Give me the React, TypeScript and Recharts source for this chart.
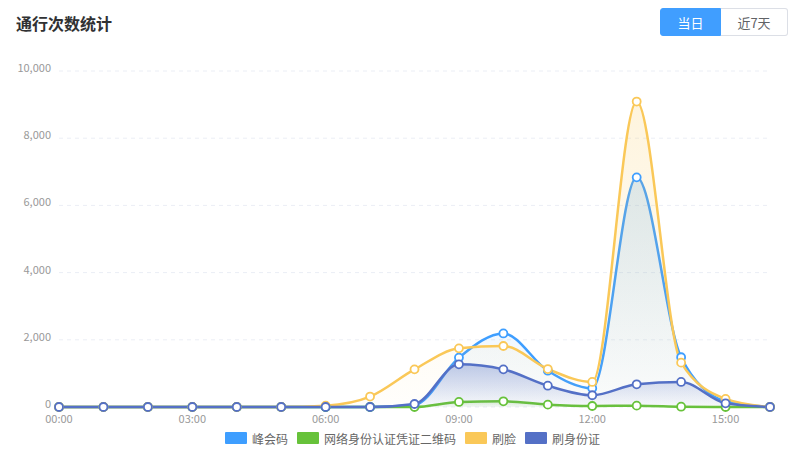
import React from 'react';
import { AreaChart, Area, XAxis, YAxis, CartesianGrid, Legend } from 'recharts';

const hours = ['00:00','01:00','02:00','03:00','04:00','05:00','06:00','07:00','08:00','09:00','10:00','11:00','12:00','13:00','14:00','15:00','16:00'];
const fenghuiCode = [0,0,0,0,0,0,0,0,60,1470,2190,1080,555,6835,1480,170,0];
const netIdQr = [0,0,0,0,0,0,0,0,0,150,170,70,30,40,10,0,0];
const faceScan = [0,0,0,0,0,0,40,310,1120,1745,1815,1130,745,9090,1320,240,0];
const idCard = [0,0,0,0,0,0,0,0,90,1270,1120,635,350,675,745,110,0];
const yTicks = [0,2000,4000,6000,8000,10000];

const seriesNames = ['峰会码','网络身份认证凭证二维码','刷脸','刷身份证'];
const seriesColors = ['#3E9EFF','#67C23A','#FAC858','#5470C6'];
const seriesKeys = ['s0','s1','s2','s3'];

const data = hours.map((h, i) => ({
  time: h,
  s0: fenghuiCode[i],
  s1: netIdQr[i],
  s2: faceScan[i],
  s3: idCard[i],
}));

const FONT = '"Noto Sans CJK SC", "Noto Sans", sans-serif';

const LegendContent = () => (
  <div style={{ display: 'flex', justifyContent: 'center', alignItems: 'center', height: 22, paddingLeft: 25, fontFamily: FONT, fontSize: 12, color: '#666' }}>
    {seriesNames.map((n, i) => (
      <div key={n} style={{ display: 'flex', alignItems: 'center', marginRight: i < 3 ? 9 : 0 }}>
        <div style={{ width: 22, height: 12, background: seriesColors[i], marginRight: 5, borderRadius: 1 }} />
        <span>{n}</span>
      </div>
    ))}
  </div>
);

export default function App() {
  return (
    <div style={{ position: 'absolute', left: 0, top: 0, width: 800, height: 469, background: '#fff', fontFamily: FONT }}>
      <div style={{ position: 'absolute', left: 16, top: 11, fontSize: 16, fontWeight: 700, color: '#303133' }}>通行次数统计</div>
      <div style={{ position: 'absolute', left: 660, top: 8, display: 'flex', fontSize: 13 }}>
        <div style={{ width: 61, height: 28, boxSizing: 'border-box', background: '#409EFF', color: '#fff', border: '1px solid #409EFF', borderRadius: '3px 0 0 3px', display: 'flex', alignItems: 'center', justifyContent: 'center' }}>当日</div>
        <div style={{ width: 67, height: 28, boxSizing: 'border-box', background: '#fff', color: '#606266', border: '1px solid #DCDFE6', borderLeft: 'none', borderRadius: '0 3px 3px 0', display: 'flex', alignItems: 'center', justifyContent: 'center' }}>近7天</div>
      </div>
      <div style={{ position: 'absolute', left: 0, top: 0 }}>
        <AreaChart width={800} height={469} data={data} margin={{ top: 71, right: 30, left: 0, bottom: 20 }}>
          <defs>
            {seriesColors.map((c, i) => (
              <linearGradient key={i} id={`grad${i}`} x1="0" y1="0" x2="0" y2="1">
                <stop offset="0%" stopColor={c} stopOpacity={i === 3 ? 0.35 : 0.2} />
                <stop offset="100%" stopColor={c} stopOpacity={0.02} />
              </linearGradient>
            ))}
          </defs>
          <CartesianGrid vertical={false} stroke="#EBEEF5" strokeDasharray="4 4" />
          <XAxis dataKey="time" interval={2} tickLine={false} axisLine={false} height={20} tickSize={6}
            tick={{ fill: '#999', fontSize: 11, fontFamily: FONT }} />
          <YAxis width={59} domain={[0, 10000]} ticks={yTicks} tickLine={false} axisLine={false}
            tickFormatter={(v: number) => v.toLocaleString('en-US')}
            tick={{ fill: '#999', fontSize: 11, fontFamily: FONT, dy: -3 }} />
          <Legend verticalAlign="bottom" content={<LegendContent />} wrapperStyle={{ left: 0, width: 800 }} />
          {seriesKeys.map((k, i) => (
            <Area key={k} type="monotone" dataKey={k} name={seriesNames[i]} stroke={seriesColors[i]} strokeWidth={2.5}
              fill={`url(#grad${i})`} fillOpacity={1} isAnimationActive={false}
              dot={{ r: 4, fill: '#fff', stroke: seriesColors[i], strokeWidth: 1.8 }} activeDot={false} />
          ))}
        </AreaChart>
      </div>
    </div>
  );
}
